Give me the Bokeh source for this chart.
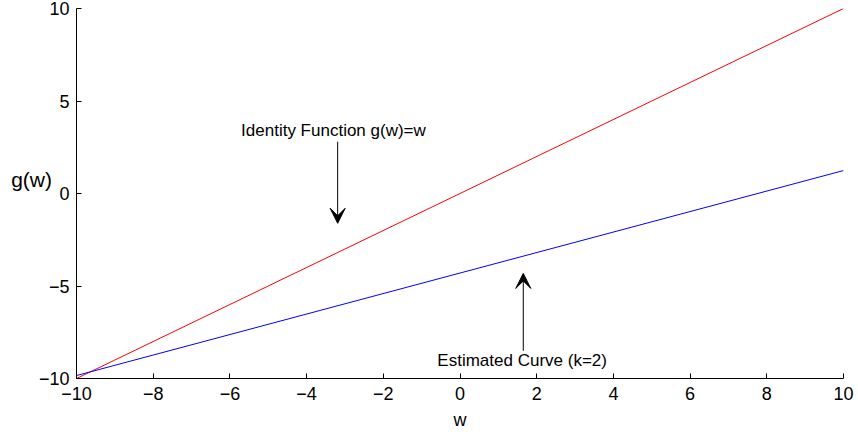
from bokeh.plotting import figure
from bokeh.models import Range1d, Label, Arrow, VeeHead, FixedTicker
from bokeh.embed import file_html
from bokeh.resources import INLINE

# Data
w_vals = [-10, 10]
identity_vals = [-10, 10]
est_w = [-10, 10]
est_vals = [-9.84, 1.24]
x_ticks = [-10, -8, -6, -4, -2, 0, 2, 4, 6, 8, 10]
y_ticks = [-10, -5, 0, 5, 10]

FONT = "Liberation Sans"
FS = "18px"
FS_ANN = "17px"

p = figure(width=858, height=432, output_backend="svg", toolbar_location=None,
           x_range=Range1d(-10, 10), y_range=Range1d(-10, 10),
           min_border_left=76, min_border_right=15, min_border_top=8, min_border_bottom=54)
p.outline_line_color = None
p.xgrid.visible = False
p.ygrid.visible = False
p.background_fill_color = "white"

p.line(w_vals, identity_vals, line_color="#ff0000", line_width=1)
p.line(est_w, est_vals, line_color="#0000ff", line_width=1)

for ax, ticks in ((p.xaxis[0], x_ticks), (p.yaxis[0], y_ticks)):
    ax.ticker = FixedTicker(ticks=ticks)
    ax.minor_tick_line_color = None
    ax.major_tick_in = 5
    ax.major_tick_out = 0
    ax.axis_line_color = "black"
    ax.major_tick_line_color = "black"
    ax.major_label_text_font = FONT
    ax.major_label_text_font_size = FS
    ax.major_label_text_color = "black"
    ax.major_label_overrides = {t: str(t).replace("-", "\u2212") for t in ticks}

p.xaxis.major_label_standoff = 8
p.yaxis.major_label_standoff = 7
p.xaxis.axis_label = "w"
p.xaxis.axis_label_text_font = FONT
p.xaxis.axis_label_text_font_style = "normal"
p.xaxis.axis_label_text_font_size = FS
p.xaxis.axis_label_text_color = "black"
p.xaxis.axis_label_standoff = 7

ya = p.yaxis[0]
ya.axis_label = "g(w)\n "
ya.axis_label_text_font = FONT
ya.axis_label_text_font_style = "normal"
ya.axis_label_text_font_size = "21px"
ya.axis_label_text_color = "black"
ya.axis_label_standoff = -16
try:
    ya.axis_label_orientation = "horizontal"
except Exception:
    pass

p.add_layout(Label(x=-3.3, y=3.39, text="Identity Function g(w)=w", text_font=FONT,
                   text_font_size=FS_ANN, text_color="black",
                   text_align="center", text_baseline="middle"))
p.add_layout(Arrow(x_start=-3.19, y_start=2.8, x_end=-3.19, y_end=-1.61,
                   line_width=1, end=VeeHead(size=15, fill_color="black", line_color="black")))

p.add_layout(Label(x=1.62, y=-9.05, text="Estimated Curve (k=2)", text_font=FONT,
                   text_font_size=FS_ANN, text_color="black",
                   text_align="center", text_baseline="middle"))
p.add_layout(Arrow(x_start=1.65, y_start=-8.5, x_end=1.65, y_end=-4.32,
                   line_width=1, end=VeeHead(size=15, fill_color="black", line_color="black")))

open("out.html", "w").write(file_html(p, INLINE))
